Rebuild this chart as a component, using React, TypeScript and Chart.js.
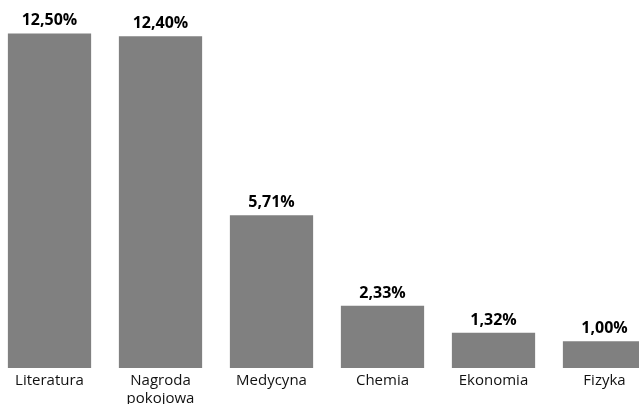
import React, { useEffect, useRef } from "react";
import { Chart, registerables } from "chart.js";

Chart.register(...registerables);

const categories: (string | string[])[] = [
  "Literatura",
  ["Nagroda", "pokojowa"],
  "Medycyna",
  "Chemia",
  "Ekonomia",
  "Fizyka",
];
const values = [12.5, 12.4, 5.71, 2.33, 1.32, 1.0];
const valueLabels = ["12,50%", "12,40%", "5,71%", "2,33%", "1,32%", "1,00%"];

const FONT = "'Open Sans', 'Noto Sans', sans-serif";

const valueLabelPlugin = {
  id: "valueLabels",
  afterDatasetsDraw(chart: any) {
    const ctx = chart.ctx;
    const meta = chart.getDatasetMeta(0);
    ctx.save();
    ctx.font = `bold 16px ${FONT}`;
    ctx.fillStyle = "#000";
    ctx.textAlign = "center";
    ctx.textBaseline = "alphabetic";
    meta.data.forEach((bar: any, i: number) => {
      ctx.fillText(valueLabels[i], bar.x, bar.y - 8);
    });
    ctx.restore();
  },
};

export default function App() {
  const ref = useRef<HTMLCanvasElement>(null);
  useEffect(() => {
    if (!ref.current) return;
    const chart = new Chart(ref.current, {
      type: "bar",
      data: {
        labels: categories,
        datasets: [
          {
            data: values,
            backgroundColor: "#808080",
            borderWidth: 0,
            categoryPercentage: 1,
            barPercentage: 0.75,
          },
        ],
      },
      options: {
        animation: false,
        responsive: false,
        maintainAspectRatio: false,
        layout: { padding: 0 },
        plugins: {
          legend: { display: false },
          tooltip: { enabled: false },
          title: { display: false },
        },
        scales: {
          x: {
            grid: { display: false, drawTicks: false },
            border: { display: false },
            ticks: {
              color: "#111",
              font: { family: FONT, size: 15, lineHeight: 1.2 },
              padding: 4,
              maxRotation: 0,
              minRotation: 0,
              autoSkip: false,
            },
          },
          y: {
            display: false,
            min: 0,
            max: 13.75,
          },
        },
      },
      plugins: [valueLabelPlugin],
    });
    return () => chart.destroy();
  }, []);
  return (
    <div
      style={{
        position: "fixed",
        left: 0,
        top: 0,
        width: 639,
        height: 404,
        overflow: "hidden",
        background: "#fff",
      }}
    >
      <canvas
        ref={ref}
        width={666}
        height={412}
        style={{ position: "absolute", left: -6, top: 0, width: 666, height: 412 }}
      />
    </div>
  );
}
